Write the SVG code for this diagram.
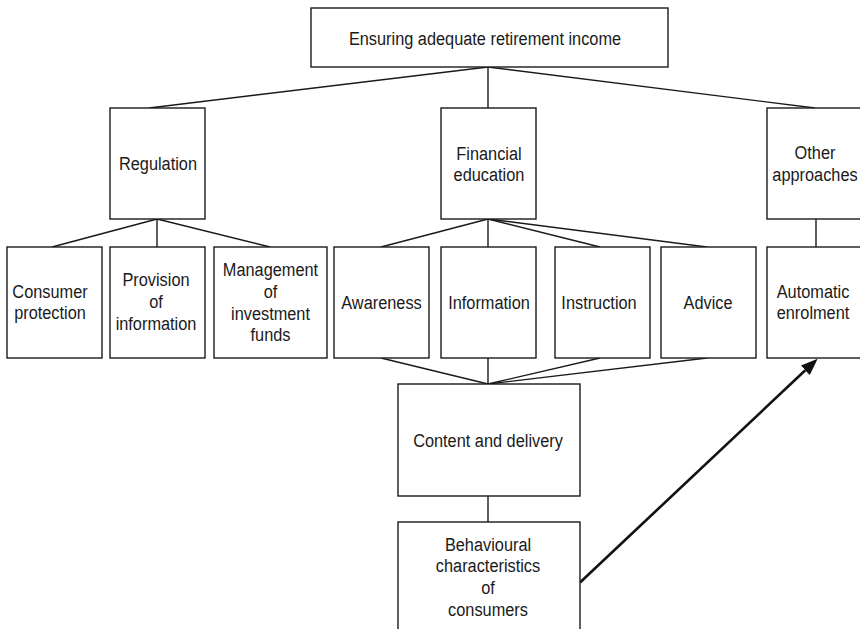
<svg xmlns="http://www.w3.org/2000/svg" width="860" height="629" viewBox="0 0 860 629">
<style>
.box{fill:#fff;stroke:#1a1a1a;stroke-width:1.4}
.ln{fill:none;stroke:#1a1a1a;stroke-width:1.4}
.ar{fill:none;stroke:#111;stroke-width:2.6}
text{font-family:"Liberation Sans",Arial,sans-serif;font-size:19px;fill:#1a1a1a;text-anchor:middle}
</style>
<defs>
<marker id="ah" viewBox="0 0 17 13" refX="0" refY="6.5" markerWidth="17" markerHeight="13" markerUnits="userSpaceOnUse" orient="auto">
<path d="M0,0 L17,6.5 L0,13 z" fill="#111"/>
</marker>
</defs>
<rect width="860" height="629" fill="#fff"/>
<g id="connectors">
<line class="ln" x1="488" y1="67" x2="149" y2="108"/>
<line class="ln" x1="488" y1="67" x2="488" y2="108"/>
<line class="ln" x1="488" y1="67" x2="815" y2="108"/>
<line class="ln" x1="157" y1="219" x2="52" y2="247"/>
<line class="ln" x1="157" y1="219" x2="157" y2="247"/>
<line class="ln" x1="157" y1="219" x2="270" y2="247"/>
<line class="ln" x1="488" y1="219" x2="381" y2="247"/>
<line class="ln" x1="488" y1="219" x2="488" y2="247"/>
<line class="ln" x1="488" y1="219" x2="600" y2="247"/>
<line class="ln" x1="488" y1="219" x2="707" y2="247"/>
<line class="ln" x1="816" y1="219" x2="816" y2="247"/>
<line class="ln" x1="381" y1="358" x2="488" y2="384"/>
<line class="ln" x1="488" y1="358" x2="488" y2="384"/>
<line class="ln" x1="600" y1="358" x2="488" y2="384"/>
<line class="ln" x1="707" y1="358" x2="488" y2="384"/>
<line class="ln" x1="488" y1="496" x2="488" y2="522"/>
<line class="ar" x1="580" y1="582.5" x2="805.3" y2="370.3" marker-end="url(#ah)"/>
</g>
<g id="n-top"><rect class="box" x="311" y="8" width="357" height="59"/><text transform="translate(485 45) scale(.86 1)">Ensuring adequate retirement income</text></g>
<g id="n-regulation"><rect class="box" x="110" y="108" width="95" height="111"/><text transform="translate(158 170) scale(.86 1)">Regulation</text></g>
<g id="n-fined"><rect class="box" x="441" y="108" width="95" height="111"/><text transform="translate(489 160) scale(.86 1)"><tspan x="0">Financial</tspan><tspan x="0" dy="21">education</tspan></text></g>
<g id="n-other"><rect class="box" x="767" y="108" width="96" height="111"/><text transform="translate(815 159) scale(.86 1)"><tspan x="0">Other</tspan><tspan x="0" dy="22">approaches</tspan></text></g>
<g id="n-consumer"><rect class="box" x="7" y="247" width="95" height="111"/><text transform="translate(50 298) scale(.86 1)"><tspan x="0">Consumer</tspan><tspan x="0" dy="21">protection</tspan></text></g>
<g id="n-provision"><rect class="box" x="110" y="247" width="95" height="111"/><text transform="translate(156 286) scale(.86 1)"><tspan x="0">Provision</tspan><tspan x="0" dy="22">of</tspan><tspan x="0" dy="22">information</tspan></text></g>
<g id="n-management"><rect class="box" x="214" y="247" width="113" height="111"/><text transform="translate(270.5 276) scale(.86 1)"><tspan x="0">Management</tspan><tspan x="0" dy="22">of</tspan><tspan x="0" dy="22">investment</tspan><tspan x="0" dy="21">funds</tspan></text></g>
<g id="n-awareness"><rect class="box" x="334" y="247" width="95" height="111"/><text transform="translate(381.5 309) scale(.86 1)">Awareness</text></g>
<g id="n-information"><rect class="box" x="441" y="247" width="95" height="111"/><text transform="translate(489 309) scale(.86 1)">Information</text></g>
<g id="n-instruction"><rect class="box" x="555" y="247" width="95" height="111"/><text transform="translate(599 309) scale(.86 1)">Instruction</text></g>
<g id="n-advice"><rect class="box" x="661" y="247" width="95" height="111"/><text transform="translate(708 309) scale(.86 1)">Advice</text></g>
<g id="n-auto"><rect class="box" x="767" y="247" width="96" height="111"/><text transform="translate(813 298) scale(.86 1)"><tspan x="0">Automatic</tspan><tspan x="0" dy="21">enrolment</tspan></text></g>
<g id="n-content"><rect class="box" x="398" y="384" width="182" height="112"/><text transform="translate(488 447) scale(.86 1)">Content and delivery</text></g>
<g id="n-behav"><rect class="box" x="398" y="522" width="182" height="120"/><text transform="translate(488 551) scale(.86 1)"><tspan x="0">Behavioural</tspan><tspan x="0" dy="21">characteristics</tspan><tspan x="0" dy="22">of</tspan><tspan x="0" dy="22">consumers</tspan></text></g>
</svg>
